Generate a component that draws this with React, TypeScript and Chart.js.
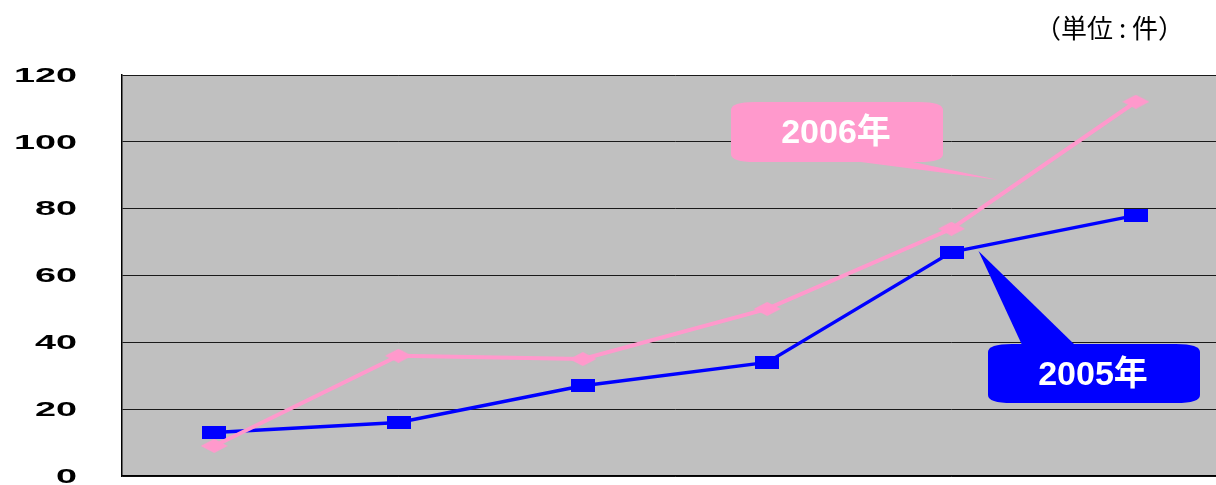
import React, { useEffect, useRef } from "react";
import { Chart, registerables } from "chart.js";

Chart.register(...registerables);

const categories = ["1", "2", "3", "4", "5", "6"];
const series2005 = [13, 16, 27, 34, 67, 78];
const series2006 = [9, 36, 35, 50, 74, 112];
const yTicks = [0, 20, 40, 60, 80, 100, 120];
const seriesNames = ["2005年", "2006年"];
const unitLabel = "（単位 : 件）";

const BLUE = "#0000FF";
const PINK = "#FF99CC";

function makeRect(w: number, h: number, color: string) {
  const c = document.createElement("canvas");
  c.width = w;
  c.height = h;
  const g = c.getContext("2d")!;
  g.fillStyle = color;
  g.fillRect(0, 0, w, h);
  return c;
}

function makeDiamond(w: number, h: number, color: string) {
  const c = document.createElement("canvas");
  c.width = w;
  c.height = h;
  const g = c.getContext("2d")!;
  g.fillStyle = color;
  g.beginPath();
  g.moveTo(w / 2, 0);
  g.lineTo(w, h / 2);
  g.lineTo(w / 2, h);
  g.lineTo(0, h / 2);
  g.closePath();
  g.fill();
  return c;
}

function roundBox(ctx: CanvasRenderingContext2D, x: number, y: number, w: number, h: number, rx: number, ry: number) {
  ctx.moveTo(x + rx, y);
  ctx.lineTo(x + w - rx, y);
  ctx.quadraticCurveTo(x + w, y, x + w, y + ry);
  ctx.lineTo(x + w, y + h - ry);
  ctx.quadraticCurveTo(x + w, y + h, x + w - rx, y + h);
  ctx.lineTo(x + rx, y + h);
  ctx.quadraticCurveTo(x, y + h, x, y + h - ry);
  ctx.lineTo(x, y + ry);
  ctx.quadraticCurveTo(x, y, x + rx, y);
  ctx.closePath();
}

function drawCallout(
  ctx: CanvasRenderingContext2D,
  box: { x: number; y: number; w: number; h: number },
  tail: [number, number][],
  color: string,
  text: string
) {
  ctx.save();
  ctx.fillStyle = color;
  ctx.beginPath();
  roundBox(ctx, box.x, box.y, box.w, box.h, 24, 8);
  ctx.fill();
  ctx.beginPath();
  ctx.moveTo(tail[0][0], tail[0][1]);
  ctx.lineTo(tail[1][0], tail[1][1]);
  ctx.lineTo(tail[2][0], tail[2][1]);
  ctx.closePath();
  ctx.fill();
  ctx.fillStyle = "#FFFFFF";
  ctx.font = "bold 34px 'Liberation Sans', Arial, 'Noto Sans CJK JP', sans-serif";
  ctx.textAlign = "center";
  ctx.textBaseline = "middle";
  ctx.fillText(text, box.x + box.w / 2 - 1, box.y + box.h / 2 + 2);
  ctx.restore();
}

const decoPlugin = {
  id: "deco",
  beforeDraw(chart: any) {
    const { ctx, chartArea: a } = chart;
    ctx.save();
    ctx.fillStyle = "#FFFFFF";
    ctx.fillRect(0, 0, chart.width, chart.height);
    ctx.fillStyle = "#C0C0C0";
    ctx.fillRect(a.left, a.top, a.right - a.left, a.bottom - a.top);
    ctx.restore();
  },
  afterDraw(chart: any) {
    const { ctx } = chart;
    const ys = chart.scales.y;
    const xs = chart.scales.x;
    ctx.save();
    ctx.fillStyle = "#000000";
    ctx.font = "bold 21px 'Liberation Sans', Arial, sans-serif";
    ctx.textAlign = "right";
    ctx.textBaseline = "middle";
    yTicks.forEach((v) => {
      const py = ys.getPixelForValue(v) + 1;
      ctx.save();
      ctx.translate(77, py);
      ctx.scale(1.8, 1);
      ctx.fillText(String(v), 0, 0);
      ctx.restore();
    });
    ctx.font = "26px 'Noto Sans CJK JP', sans-serif";
    ctx.textAlign = "right";
    ctx.fillText(unitLabel, 1184, 28);
    ctx.restore();

    const p6x = xs.getPixelForValue(4);
    const p6y = ys.getPixelForValue(series2006[4]);
    drawCallout(
      ctx,
      { x: 731, y: 102, w: 212, h: 60 },
      [
        [853, 161],
        [908, 161],
        [p6x + 46, p6y - 49],
      ],
      PINK,
      seriesNames[1]
    );
    const p5x = xs.getPixelForValue(4);
    const p5y = ys.getPixelForValue(series2005[4]);
    drawCallout(
      ctx,
      { x: 988, y: 344, w: 212, h: 59 },
      [
        [1022, 345],
        [1075, 345],
        [p5x + 27, p5y - 1],
      ],
      BLUE,
      seriesNames[0]
    );
  },
};

export default function App() {
  const ref = useRef<HTMLCanvasElement>(null);
  useEffect(() => {
    const canvas = ref.current!;
    const sq = makeRect(24, 13, BLUE);
    const dm = makeDiamond(27, 14, PINK);
    const chart = new Chart(canvas, {
      type: "line",
      data: {
        labels: categories,
        datasets: [
          {
            label: seriesNames[1],
            data: series2006,
            borderColor: PINK,
            backgroundColor: PINK,
            borderWidth: 4,
            pointStyle: dm as any,
            pointRadius: 7,
            tension: 0,
          },
          {
            label: seriesNames[0],
            data: series2005,
            borderColor: BLUE,
            backgroundColor: BLUE,
            borderWidth: 3.5,
            pointStyle: sq as any,
            pointRadius: 7,
            tension: 0,
          },
        ],
      },
      options: {
        responsive: false,
        animation: false,
        devicePixelRatio: 1,
        layout: { autoPadding: false, padding: { left: 122, top: 75, right: 12, bottom: 9 } },
        plugins: { legend: { display: false }, tooltip: { enabled: false }, title: { display: false } },
        scales: {
          x: {
            offset: true,
            ticks: { display: false },
            grid: { display: false, drawTicks: false },
            border: { display: true, color: "#000000", width: 1.5 },
          },
          y: {
            min: 0,
            max: 120,
            ticks: { display: false, stepSize: 20 },
            grid: { color: "#1a1a1a", lineWidth: 1, drawTicks: false },
            border: { display: true, color: "#000000", width: 1.5 },
          },
        },
      },
      plugins: [decoPlugin],
    });
    return () => chart.destroy();
  }, []);
  return (
    <div style={{ position: "fixed", left: 0, top: 0, width: 1216, height: 485, overflow: "hidden", background: "#fff" }}>
      <canvas ref={ref} width={1240} height={485} style={{ display: "block" }} />
    </div>
  );
}
